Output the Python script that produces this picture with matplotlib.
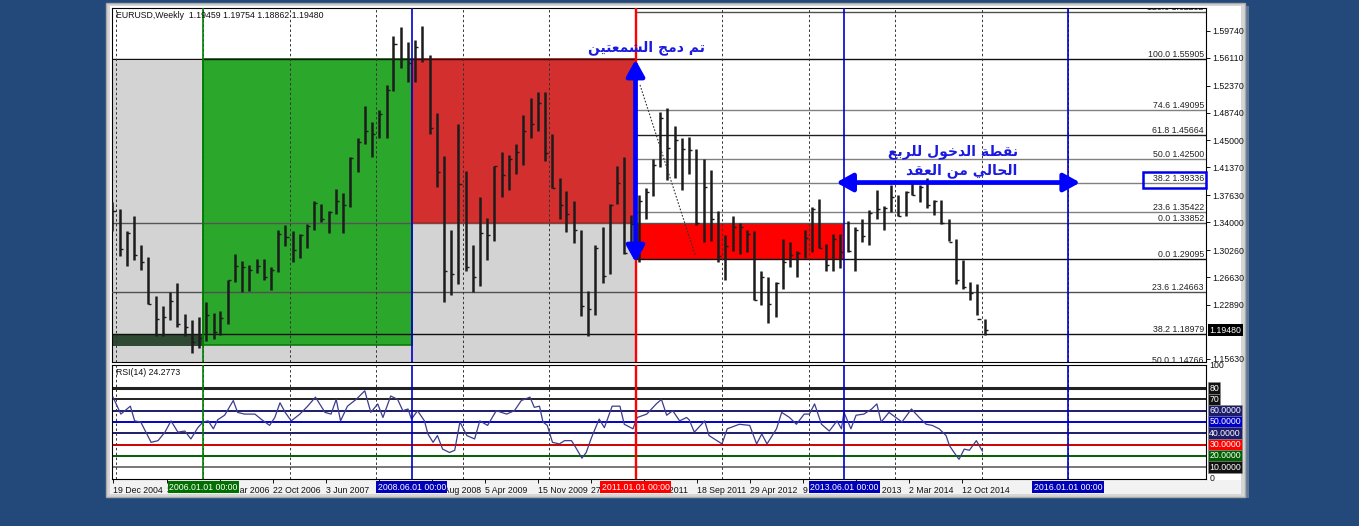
import matplotlib
matplotlib.use("Agg")
import matplotlib.pyplot as plt
import matplotlib.transforms as mtransforms
from matplotlib.patches import Rectangle
from datetime import date

W, H = 1359, 526
FS = 6.3
plt.rcParams["font.family"] = ["Liberation Sans", "DejaVu Sans"]

# ---------------- data ----------------
# EURUSD monthly bars, Dec 2004 .. Jan 2015
highs = [1.3667,
         1.3580, 1.3276, 1.3487, 1.3091, 1.2935, 1.2415, 1.2280, 1.2466, 1.2587, 1.2165, 1.2092, 1.2130,
         1.2322, 1.2180, 1.2210, 1.2623, 1.2978, 1.2877, 1.2826, 1.2906, 1.2910, 1.2799, 1.3290, 1.3366,
         1.3280, 1.3246, 1.3372, 1.3682, 1.3651, 1.3551, 1.3852, 1.3788, 1.4281, 1.4527, 1.4967, 1.4752,
         1.4903, 1.5240, 1.5904, 1.6018, 1.5820, 1.5844, 1.6038, 1.5650, 1.4868, 1.4286, 1.3300, 1.4720,
         1.4090, 1.3100, 1.3737, 1.3456, 1.4156, 1.4338, 1.4300, 1.4445, 1.4845, 1.5065, 1.5144, 1.5145,
         1.4580, 1.3990, 1.3820, 1.3690, 1.3300, 1.2480, 1.3100, 1.3335, 1.3650, 1.4160, 1.4280, 1.3500,
         1.3760, 1.3860, 1.4250, 1.4880, 1.4940, 1.4700, 1.4530, 1.4550, 1.4380, 1.4250, 1.4100, 1.3550,
         1.3230, 1.3490, 1.3390, 1.3300, 1.3280, 1.2750, 1.2670, 1.2600, 1.3170, 1.3140, 1.3010, 1.3300,
         1.3600, 1.3710, 1.3110, 1.3240, 1.3240, 1.3420, 1.3340, 1.3450, 1.3570, 1.3830, 1.3620, 1.3900,
         1.3770, 1.3820, 1.3960, 1.3900, 1.3995, 1.3700, 1.3700, 1.3440, 1.3180, 1.2890, 1.2600, 1.2570,
         1.2100]
lows = [1.3287,
        1.2945, 1.2811, 1.2887, 1.2765, 1.2304, 1.1868, 1.1869, 1.2082, 1.1988, 1.1876, 1.1640, 1.1707,
        1.1800, 1.1826, 1.1881, 1.2036, 1.2595, 1.2456, 1.2482, 1.2722, 1.2621, 1.2484, 1.2730, 1.3080,
        1.2867, 1.2925, 1.3050, 1.3290, 1.3410, 1.3260, 1.3510, 1.3261, 1.3605, 1.4070, 1.4450, 1.4276,
        1.4530, 1.4530, 1.5160, 1.5476, 1.5284, 1.5285, 1.5555, 1.4580, 1.3880, 1.2330, 1.2425, 1.2565,
        1.2745, 1.2456, 1.2545, 1.2886, 1.3150, 1.3745, 1.3836, 1.4045, 1.4170, 1.4530, 1.4630, 1.4217,
        1.3860, 1.3440, 1.3270, 1.3115, 1.2143, 1.1876, 1.2150, 1.2590, 1.2700, 1.3640, 1.2970, 1.3000,
        1.2870, 1.3440, 1.3750, 1.4140, 1.3970, 1.4000, 1.3840, 1.4050, 1.3360, 1.3140, 1.3150, 1.2860,
        1.2625, 1.3020, 1.2980, 1.3000, 1.2360, 1.2290, 1.2040, 1.2130, 1.2500, 1.2800, 1.2660, 1.2920,
        1.3000, 1.3050, 1.2750, 1.2740, 1.2790, 1.3000, 1.2750, 1.3130, 1.3100, 1.3450, 1.3300, 1.3540,
        1.3480, 1.3480, 1.3760, 1.3670, 1.3590, 1.3500, 1.3370, 1.3150, 1.2570, 1.2500, 1.2360, 1.2160,
        1.1886]
closes = [1.3554,
          1.3036, 1.3256, 1.2961, 1.2868, 1.2302, 1.2106, 1.2121, 1.2337, 1.2026, 1.1993, 1.1789, 1.1840,
          1.2160, 1.1930, 1.2117, 1.2625, 1.2814, 1.2795, 1.2760, 1.2810, 1.2669, 1.2760, 1.3240, 1.3200,
          1.3030, 1.3230, 1.3355, 1.3655, 1.3445, 1.3540, 1.3690, 1.3630, 1.4260, 1.4480, 1.4630, 1.4590,
          1.4860, 1.5180, 1.5790, 1.5600, 1.5545, 1.5750, 1.5600, 1.4670, 1.4080, 1.2740, 1.2700, 1.3920,
          1.2800, 1.2670, 1.3250, 1.3230, 1.4150, 1.4030, 1.4250, 1.4340, 1.4630, 1.4720, 1.5000, 1.4330,
          1.3860, 1.3630, 1.3510, 1.3300, 1.2270, 1.2230, 1.3050, 1.2680, 1.3630, 1.3930, 1.2990, 1.3380,
          1.3690, 1.3810, 1.4170, 1.4800, 1.4400, 1.4500, 1.4390, 1.4370, 1.3390, 1.3870, 1.3450, 1.2940,
          1.3080, 1.3330, 1.3340, 1.3240, 1.2360, 1.2660, 1.2300, 1.2580, 1.2860, 1.2960, 1.2990, 1.3190,
          1.3580, 1.3060, 1.2820, 1.3170, 1.3000, 1.3010, 1.3300, 1.3220, 1.3530, 1.3580, 1.3590, 1.3740,
          1.3480, 1.3800, 1.3770, 1.3870, 1.3630, 1.3690, 1.3390, 1.3130, 1.2630, 1.2530, 1.2450, 1.2100,
          1.1948]

# RSI(14) (decimal year, value)
rsi_t = [2004.96, 2005.05, 2005.16, 2005.21, 2005.28, 2005.34, 2005.40, 2005.48, 2005.56, 2005.63,
         2005.71, 2005.79, 2005.86, 2005.94, 2006.00, 2006.06, 2006.12, 2006.17, 2006.25, 2006.35,
         2006.40, 2006.48, 2006.60, 2006.67, 2006.77, 2006.83, 2006.89, 2006.95, 2007.02, 2007.12,
         2007.21, 2007.30, 2007.41, 2007.48, 2007.54, 2007.59, 2007.67, 2007.77, 2007.87, 2007.94,
         2008.02, 2008.08, 2008.17, 2008.25, 2008.31, 2008.37, 2008.41, 2008.48, 2008.56, 2008.60,
         2008.66, 2008.71, 2008.77, 2008.85, 2008.91, 2008.97, 2009.05, 2009.14, 2009.20, 2009.29,
         2009.39, 2009.51, 2009.60, 2009.68, 2009.78, 2009.83, 2009.89, 2009.93, 2009.98, 2010.04,
         2010.12, 2010.18, 2010.26, 2010.32, 2010.38, 2010.43, 2010.49, 2010.58, 2010.64, 2010.73,
         2010.82, 2010.87, 2010.97, 2011.02, 2011.13, 2011.24, 2011.30, 2011.36, 2011.43, 2011.51,
         2011.59, 2011.62, 2011.68, 2011.80, 2011.85, 2012.00, 2012.06, 2012.20, 2012.32, 2012.40,
         2012.46, 2012.52, 2012.63, 2012.69, 2012.78, 2012.86, 2012.95, 2013.01, 2013.07, 2013.15,
         2013.24, 2013.33, 2013.38, 2013.41, 2013.49, 2013.55, 2013.64, 2013.73, 2013.79, 2013.84,
         2013.93, 2014.01, 2014.08, 2014.19, 2014.28, 2014.36, 2014.43, 2014.51, 2014.59, 2014.63,
         2014.71, 2014.74, 2014.80, 2014.86, 2014.94, 2015.01]
rsi_v = [72, 57, 64, 51, 50, 41, 32, 33.5, 41, 51,
         41, 42, 35, 45, 50, 51, 44, 52, 56, 69,
         58.5, 57, 57, 52.6, 47, 54, 67, 58.5, 51, 57,
         64, 72, 58.5, 57, 70, 51, 64, 70, 77.6, 58.5,
         66, 54, 73, 70, 60, 61.5, 52.6, 60, 51, 39.4,
         32, 38, 26, 23, 25, 50, 38, 35, 51, 47,
         60, 57, 60, 69, 72, 63, 64, 50, 47, 32,
         30.6, 33.5, 33.5, 26, 18, 23, 36, 52.6, 45, 64,
         64, 48, 44, 54, 57, 66, 70, 56, 60, 51,
         54, 52, 41, 51, 38, 30.6, 44, 48, 47, 30.6,
         39.4, 30.6, 44, 58.5, 54, 48, 57, 57, 66, 48,
         42, 51, 44, 58.5, 44, 56, 57, 61.5, 66, 50,
         58.5, 54, 50, 61.5, 54, 48, 47, 44, 38, 29,
         20, 17, 26, 25, 33.5, 24.2773]

price_ticks = [1.59740, 1.56110, 1.52370, 1.48740, 1.45000, 1.41370, 1.37630,
               1.34000, 1.30260, 1.26630, 1.22890, 1.15630]
last_price = 1.19480

# fibonacci levels: drawn across the whole chart / only from 2011 onward
fib_full = [("100.0", 1.55905, "#101010"), ("0.0", 1.33852, "#555555"),
            ("23.6", 1.24663, "#505050"), ("38.2", 1.18979, "#101010"),
            ("50.0", 1.14766, "#101010")]
fib_right = [("123.6", 1.62232, "#505050"), ("74.6", 1.49095, "#808080"),
             ("61.8", 1.45664, "#202020"), ("50.0", 1.42500, "#808080"),
             ("38.2", 1.39336, "#808080"), ("23.6", 1.35422, "#808080"),
             ("0.0", 1.29095, "#101010")]
boxed_level = 1.39336

time_labels = ["19 Dec 2004", "31 Jul 2005", "12 Mar 2006", "22 Oct 2006", "3 Jun 2007",
               "13 Jan 2008", "24 Aug 2008", "5 Apr 2009", "15 Nov 2009", "27 Jun 2010",
               "6 Feb 2011", "18 Sep 2011", "29 Apr 2012", "9 Dec 2012", "21 Jul 2013",
               "2 Mar 2014", "12 Oct 2014"]
time_dates = ["2004-12-19", "2005-07-31", "2006-03-12", "2006-10-22", "2007-06-03",
              "2008-01-13", "2008-08-24", "2009-04-05", "2009-11-15", "2010-06-27",
              "2011-02-06", "2011-09-18", "2012-04-29", "2012-12-09", "2013-07-21",
              "2014-03-02", "2014-10-12"]

vlines = [("2006-01-01", "2006.01.01 00:00", "#008000", "#007000"),
          ("2008-06-01", "2008.06.01 00:00", "#0000cc", "#0000bb"),
          ("2011-01-01", "2011.01.01 00:00", "#ff0000", "#ff0000"),
          ("2013-06-01", "2013.06.01 00:00", "#0000cc", "#0000bb"),
          ("2016-01-01", "2016.01.01 00:00", "#0000cc", "#0000bb")]

rsi_levels = [(80, "#222222", 2.2, "80", "#111111"), (70, "#222222", 1.4, "70", "#111111"),
              (60, "#1c1c6a", 1.4, "60.0000", "#1c1c6a"), (50, "#0000cc", 1.4, "50.0000", "#0000cc"),
              (40, "#1c1c6a", 1.4, "40.0000", "#1c1c6a"), (30, "#cc0000", 1.4, "30.0000", "#ff0000"),
              (20, "#006000", 1.4, "20.0000", "#006000"), (10, "#777777", 1.4, "10.0000", "#111111")]


def dec_year(s):
    d = date.fromisoformat(s)
    start = date(d.year, 1, 1)
    n = (date(d.year + 1, 1, 1) - start).days
    return d.year + (d - start).days / n


def shape_arabic(text):
    # minimal contextual shaping (presentation forms) + visual reordering
    forms = {"ا": (0xFE8D, 0xFE8E, None, None), "ب": (0xFE8F, 0xFE90, 0xFE91, 0xFE92),
             "ة": (0xFE93, 0xFE94, None, None), "ت": (0xFE95, 0xFE96, 0xFE97, 0xFE98),
             "ج": (0xFE9D, 0xFE9E, 0xFE9F, 0xFEA0), "ح": (0xFEA1, 0xFEA2, 0xFEA3, 0xFEA4),
             "خ": (0xFEA5, 0xFEA6, 0xFEA7, 0xFEA8), "د": (0xFEA9, 0xFEAA, None, None),
             "ر": (0xFEAD, 0xFEAE, None, None), "ش": (0xFEB5, 0xFEB6, 0xFEB7, 0xFEB8),
             "ط": (0xFEC1, 0xFEC2, 0xFEC3, 0xFEC4), "ع": (0xFEC9, 0xFECA, 0xFECB, 0xFECC),
             "ق": (0xFED5, 0xFED6, 0xFED7, 0xFED8), "ل": (0xFEDD, 0xFEDE, 0xFEDF, 0xFEE0),
             "م": (0xFEE1, 0xFEE2, 0xFEE3, 0xFEE4), "ن": (0xFEE5, 0xFEE6, 0xFEE7, 0xFEE8),
             "و": (0xFEED, 0xFEEE, None, None), "ي": (0xFEF1, 0xFEF2, 0xFEF3, 0xFEF4)}
    out = []
    for i, ch in enumerate(text):
        if ch not in forms:
            out.append(ch)
            continue
        prev = text[i - 1] if i > 0 else ""
        nxt = text[i + 1] if i + 1 < len(text) else ""
        jp = prev in forms and forms[prev][2] is not None
        jn = nxt in forms and forms[ch][2] is not None
        iso, fin, ini, med = forms[ch]
        cp = med if (jp and jn) else fin if jp else ini if jn else iso
        out.append(chr(cp))
    return "".join(reversed(out))


months = []
yy, mm = 2004, 12
for _ in closes:
    months.append(f"{yy}-{mm:02d}-15")
    mm += 1
    if mm > 12:
        yy, mm = yy + 1, 1
bar_x = [dec_year(s) for s in months]

X0, X1 = 2004.948, 2017.595

# ---------------- figure & window frame ----------------
fig = plt.figure(figsize=(W / 100, H / 100), dpi=100)
fig.patch.set_facecolor("#22497a")
bg = fig.add_axes([0, 0, 1, 1])
bg.set_xlim(0, W)
bg.set_ylim(H, 0)
bg.axis("off")
bg.add_patch(Rectangle((1243, 6), 6, 492, fc="#5f7796", ec="none"))
bg.add_patch(Rectangle((106, 3), 1139, 494, fc="#d6d6d6", ec="#a8a8a8", lw=1))
bg.add_patch(Rectangle((110, 6), 1131, 474, fc="white", ec="none"))
bg.add_patch(Rectangle((110, 480), 1131, 14, fc="#f2f2f2", ec="none"))


def px_axes(x0, y0, x1, y1):
    return fig.add_axes([x0 / W, 1 - y1 / H, (x1 - x0) / W, (y1 - y0) / H])


ax = px_axes(112, 8, 1206, 362)
rx = px_axes(112, 365, 1206, 479)
for a in (ax, rx):
    a.set_xlim(X0, X1)
    a.set_facecolor("white")
    for s in a.spines.values():
        s.set_color("#000000")
        s.set_linewidth(0.8)
ax.set_ylim(1.1522, 1.6279)
rx.set_ylim(-0.44, 100.44)

# ---------------- main price panel ----------------
t_green, t_blue1, t_red, t_blue2 = (dec_year(v[0]) for v in vlines[:4])
ax.add_patch(Rectangle((X0, 1.1522), t_red - X0, 1.5567 - 1.1522, fc="#d3d3d3", ec="none", zorder=1))
ax.add_patch(Rectangle((t_green, 1.1755), t_blue1 - t_green, 1.55905 - 1.1755,
                       fc="#2ba72b", ec="#0a7a0a", lw=1.2, zorder=2))
ax.add_patch(Rectangle((X0, 1.1742), t_green - X0, 1.18979 - 1.1742, fc="#2e4a32", ec="none", zorder=2))
ax.add_patch(Rectangle((t_blue1, 1.33852), t_red - t_blue1, 1.55905 - 1.33852,
                       fc="#d32f2f", ec="#ff0000", lw=1.2, zorder=2))
ax.add_patch(Rectangle((t_red, 1.29095), t_blue2 - t_red, 1.33852 - 1.29095, fc="#ff0000", ec="none", zorder=2))

blend = mtransforms.blended_transform_factory(ax.transAxes, ax.transData)
for lvl, val, col in fib_full:
    ax.axhline(val, color=col, lw=1.0, zorder=3)
    ax.text(0.998, val, f"{lvl} {val:.5f}", transform=blend, ha="right", va="bottom",
            fontsize=FS, color="#222222", zorder=7, clip_on=True)
for lvl, val, col in fib_right:
    ax.hlines(val, t_red, X1, color=col, lw=1.0, zorder=3)
    ax.text(0.998, val, f"{lvl} {val:.5f}", transform=blend, ha="right", va="bottom",
            fontsize=FS, color="#222222", zorder=7, clip_on=True)
# blue frame around the 38.2 label
ax.add_patch(Rectangle((0.9424, boxed_level - 0.0068), 0.0576, 0.0212, transform=blend, fill=False,
                       ec="#0000ee", lw=1.8, zorder=7, clip_on=False))

for yr in range(2005, 2017):
    for a in (ax, rx):
        a.axvline(yr, color="#333333", lw=0.7, ls=(0, (2.5, 2.5)), zorder=3.5)

ax.vlines(bar_x, lows, highs, color="#1c1c1c", lw=1.8, zorder=4)
ax.hlines(closes, bar_x, [x + 0.035 for x in bar_x], color="#1c1c1c", lw=1.0, zorder=4)

# dotted trend line
ax.plot([2011.052, 2011.688], [1.5245, 1.2964], color="#333333", lw=0.8, ls=(0, (1.5, 1.5)), zorder=4.5)

for d, lab, col, box in vlines:
    t = dec_year(d)
    lw = 1.7 if col == "#ff0000" else 1.2
    for a in (ax, rx):
        a.axvline(t, color=col, lw=lw, zorder=5)
    rx.text(t, -0.072, lab, transform=mtransforms.blended_transform_factory(rx.transData, rx.transAxes),
            ha="center", va="center", fontsize=FS, color="white", zorder=10, clip_on=False,
            bbox=dict(boxstyle="square,pad=0.15", fc=box, ec="none"))

# blue arrows
arrow = dict(arrowstyle="<|-|>,head_length=0.65,head_width=0.36", mutation_scale=15, lw=3.4,
             color="#0000ff", shrinkA=0, shrinkB=0)
ax.annotate("", xy=(t_red, 1.2860), xytext=(t_red, 1.5585), arrowprops=arrow, zorder=6)
ax.annotate("", xy=(2013.32, 1.39336), xytext=(2016.14, 1.39336), arrowprops=arrow, zorder=6)

ar = dict(family=["DejaVu Sans"], fontweight="bold", fontsize=10, color="#1a1ae0", zorder=8)
ax.text(2011.13, 1.5745, shape_arabic("تم دمج الشمعتين"), ha="center", va="center", **ar)
ax.text(2015.42, 1.4345, shape_arabic("نقطة الدخول للربع"), ha="right", va="center", **ar)
ax.text(2015.42, 1.4090, shape_arabic("الحالي من العقد"), ha="right", va="center", **ar)

ax.text(0.0037, 0.980, "EURUSD,Weekly  1.19459 1.19754 1.18862 1.19480", transform=ax.transAxes,
        ha="left", va="center", fontsize=FS, color="#111111", zorder=8)

ax.set_xticks([])
ax.yaxis.tick_right()
ax.set_yticks(price_ticks)
ax.set_yticklabels([f"{v:.5f}" for v in price_ticks])
ax.tick_params(axis="y", labelsize=FS, length=3, width=0.7, pad=1.5, colors="#111111")
ax.text(1.003, last_price, f"{last_price:.5f}", transform=blend, ha="left", va="center",
        fontsize=FS, color="white", zorder=9, clip_on=False,
        bbox=dict(boxstyle="square,pad=0.18", fc="#000000", ec="none"))

# ---------------- RSI panel ----------------
rblend = mtransforms.blended_transform_factory(rx.transAxes, rx.transData)
for lvl, col, lw, lab, box in rsi_levels:
    rx.axhline(lvl, color=col, lw=lw, zorder=2)
    rx.text(1.003, lvl, lab, transform=rblend, ha="left", va="center", fontsize=FS, color="white",
            zorder=9, clip_on=False, bbox=dict(boxstyle="square,pad=0.15", fc=box, ec="#888888", lw=0.5))
rx.text(1.003, 100, "100", transform=rblend, ha="left", va="center", fontsize=FS, color="#111111", clip_on=False)
rx.text(1.003, 0, "0", transform=rblend, ha="left", va="center", fontsize=FS, color="#111111", clip_on=False)
rx.plot(rsi_t, rsi_v, color="#3c3c8e", lw=0.9, zorder=4)
rx.text(0.0037, 0.935, "RSI(14) 24.2773", transform=rx.transAxes, ha="left", va="center",
        fontsize=FS, color="#111111", zorder=8)

rx.set_yticks([])
rx.set_xticks([dec_year(d) for d in time_dates])
rx.set_xticklabels(time_labels, ha="left")
rx.tick_params(axis="x", labelsize=FS, length=3, width=0.7, pad=2, colors="#111111")

fig.savefig("out.png", dpi=100, facecolor=fig.get_facecolor())
